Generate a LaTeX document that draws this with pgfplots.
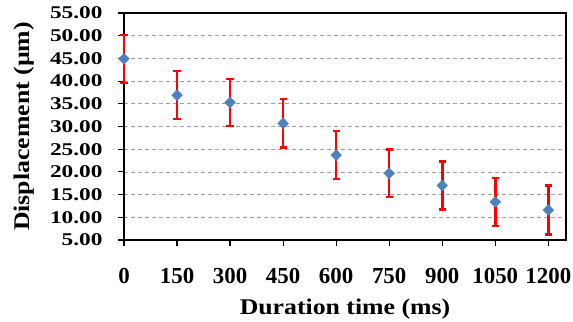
\documentclass[border=0pt]{standalone}
\usepackage{fontspec}
\setmainfont{Liberation Serif}
\newfontfamily\yfont[FakeStretch=1.3]{Liberation Serif}
\newfontfamily\labfont[FakeStretch=1.15]{Liberation Serif}
\usepackage{pgfplots}
\pgfplotsset{compat=1.18}
\definecolor{mblue}{RGB}{79,129,189}
\begin{document}
\begin{tikzpicture}
\begin{axis}[
  scale only axis,
  width=442bp, height=227bp,
  xmin=0, xmax=1250,
  ymin=5, ymax=55,
  clip=false,
  xtick={0,150,300,450,600,750,900,1050,1200},
  ytick={5,10,15,20,25,30,35,40,45,50,55},
  tick align=outside,
  tick style={black, line width=1.2pt},
  major tick length=6bp,
  xtick pos=bottom, ytick pos=left,
  ymajorgrids,
  grid style={gray!75, dash pattern=on 4bp off 3bp, line width=0.7pt},
  axis line style={black, line width=1.4pt},
  /pgf/number format/assume math mode=true,
  yticklabel style={font=\yfont\bfseries\fontsize{18}{20}\selectfont, xshift=-12bp, /pgf/number format/.cd, fixed, fixed zerofill, precision=2},
  xticklabel style={font=\bfseries\fontsize{23}{25}\selectfont, yshift=-19bp, /pgf/number format/.cd, 1000 sep={}},
  label style={font=\labfont\bfseries\fontsize{22.5}{24}\selectfont},
  xlabel={Duration time (ms)},
  ylabel={Displacement (µm)},
  xlabel style={yshift=-8bp},
  ylabel style={yshift=9bp},
]
\addplot[
  only marks,
  mark=diamond*,
  mark size=5.5bp,
  mark options={fill=mblue, draw=mblue, xscale=1.3},
  error bars/.cd,
  y dir=both, y explicit,
  error bar style={red, line width=2.6pt},
  error mark options={red, line width=2.4pt, mark size=3.6bp, rotate=90},
] table[x=x, y=y, y error=e] {
x y e
0 44.9 5.3
150 36.9 5.3
300 35.3 5.2
450 30.7 5.3
600 23.7 5.3
750 19.7 5.2
900 17.0 5.3
1050 13.4 5.3
1200 11.6 5.4
};
\end{axis}
\pgfresetboundingbox
\useasboundingbox (current axis.south west) ++(-124bp,-82bp) rectangle ++(573bp,322bp);
\end{tikzpicture}
\end{document}
